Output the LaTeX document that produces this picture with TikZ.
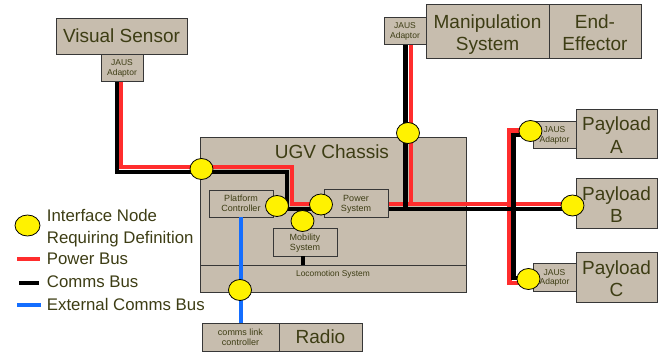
\documentclass[tikz,border=0pt]{standalone}
\usepackage{fontspec}
\setmainfont{Liberation Sans}
\usetikzlibrary{shapes.geometric}
\definecolor{boxfill}{RGB}{199,189,174}
\definecolor{boxline}{RGB}{55,55,55}
\definecolor{txt}{RGB}{61,61,20}
\definecolor{pwr}{RGB}{255,45,45}
\definecolor{ext}{RGB}{20,110,255}
\begin{document}
\begin{tikzpicture}[x=1pt,y=-1pt,
 box/.style={draw=boxline, fill=boxfill, line width=0.9pt, inner sep=0pt, text=txt, align=center, text depth=0pt},
 big/.style={font=\fontsize{19}{22.5}\selectfont},
 small/.style={font=\fontsize{8.5}{9.5}\selectfont},
 mid/.style={font=\fontsize{9}{10}\selectfont},
 twol/.style={yshift=-1.8pt},
 iface/.style={ellipse, draw=black, fill=yellow, line width=0.8pt, minimum width=23pt, minimum height=21pt, inner sep=0pt},
 power/.style={draw=pwr, line width=4.5pt},
 comms/.style={draw=black, line width=4.5pt},
 extc/.style={draw=ext, line width=4.5pt},
 lgtext/.style={anchor=base west, inner sep=0pt, text=txt, font=\fontsize{16.8}{20}\selectfont},
]
\useasboundingbox (0,0) rectangle (665,352);

% chassis
\node[box, minimum width=266pt, minimum height=155pt] (ugv) at (333,214.5) {};
\node[box, minimum width=266pt, minimum height=27pt] (loco) at (333,278.5) {};
\node[text=txt, inner sep=0pt, font=\fontsize{8.4}{9}\selectfont, text depth=0pt] (locot) at (333,273.8) {Locomotion System};
\node[text=txt, inner sep=0pt, big, text depth=0pt] (ugvt) at (332,152) {UGV Chassis};

% bus coordinates
\coordinate (vsR) at (121,81);
\coordinate (vsB) at (117,81);
\coordinate (rA) at (292,167);
\coordinate (rB) at (324,204);
\coordinate (rC) at (388,204);
\coordinate (rD) at (572,204);
\coordinate (bA) at (287,172);
\coordinate (bB) at (572,209);
\coordinate (mR) at (411,44);
\coordinate (mR2) at (411,204);
\coordinate (mB) at (405.5,44);
\coordinate (mB2) at (405.5,209);
\coordinate (pRa) at (530,130.5);
\coordinate (pRc) at (509.5,283);
\coordinate (pRe) at (528,283);
\coordinate (pBa) at (530,135);
\coordinate (pBc) at (513.5,278);
\coordinate (pBe) at (528,278);

% power bus
\draw[power] (vsR) |- (rA) |- (rB);
\draw[power] (rC) -- (rD);
\draw[power] (mR) -- (mR2);
\draw[power] (pRa) -| (pRc) -- (pRe);
% comms bus
\draw[comms] (vsB) |- (bA) |- (bB);
\draw[comms] (mB) -- (mB2);
\draw[comms] (pBa) -| (pBc) -- (pBe);

% boxes
\node[box, big, minimum width=131pt, minimum height=36pt] (vs) at (121.5,36) {Visual Sensor};
\node[box, small, minimum width=42pt, minimum height=27pt] (vsj) at (122,67.5) {JAUS\\Adaptor};
\node[box, small, minimum width=42pt, minimum height=27pt] (mj) at (405,30.5) {JAUS\\Adaptor};
\node[box, minimum width=123pt, minimum height=54pt] (man) at (487.5,31) {};
\node[big, text=txt, align=center, text depth=0pt, twol] (mant) at (man) {Manipulation\\System};
\node[box, minimum width=92pt, minimum height=54pt] (ee) at (595,31) {};
\node[big, text=txt, align=center, text depth=0pt, twol] (eet) at (ee) {End-\\Effector};

\node[box, mid, minimum width=64pt, minimum height=27pt] (pc) at (241,203.5) {Platform\\Controller};
\node[box, mid, minimum width=64pt, minimum height=28pt] (ps) at (356,203) {Power\\System};
\node[box, mid, minimum width=64pt, minimum height=28pt] (mob) at (305,242) {Mobility\\System};
\draw[comms, line width=4pt] (303,256 |- mob.south) -- (303,0 |- loco.north);

\node[box, small, minimum width=43pt, minimum height=27pt] (paj) at (554.5,134.5) {JAUS\\Adaptor};
\node[box, minimum width=81pt, minimum height=49pt] (pa) at (616.5,133.5) {};
\node[big, text=txt, align=center, text depth=0pt, twol] (pat) at (pa) {Payload\\A};
\node[box, minimum width=81pt, minimum height=50pt] (pb) at (616.5,203) {};
\node[big, text=txt, align=center, text depth=0pt, twol] (pbt) at (pb) {Payload\\B};
\node[box, small, minimum width=43pt, minimum height=28pt] (pcj) at (554.5,277) {JAUS\\Adaptor};
\node[box, minimum width=81pt, minimum height=50pt] (pcp) at (616.5,277) {};
\node[big, text=txt, align=center, text depth=0pt, twol] (pct) at (pcp) {Payload\\C};

\node[box, mid, minimum width=77pt, minimum height=28pt] (clc) at (240.5,337) {comms link\\controller};
\node[box, big, minimum width=83pt, minimum height=28pt] (radio) at (320.5,337) {Radio};

% external comms
\draw[extc] (pc.south) -- (pc.south |- clc.north);

% interface nodes
\node[iface] (e1) at (201.5,169) {};
\node[iface] (e2) at (277,206) {};
\node[iface] (e3) at (321,204.5) {};
\node[iface] (e4) at (302.5,221) {};
\node[iface] (e5) at (408,133) {};
\node[iface] (e6) at (240,290) {};
\node[iface] (eA) at (530.5,131) {};
\node[iface] (eB) at (572.5,205.5) {};
\node[iface] (eC) at (528.5,279) {};

% legend
\node[iface, minimum width=25pt] (lg) at (27.5,225.5) {};
\node[lgtext] (lg1) at (46.7,221.7) {Interface Node};
\node[lgtext] (lg2) at (46.7,243.3) {Requiring Definition};
\coordinate (lpa) at (17,259);
\coordinate (lpb) at (40,259);
\draw[power] (lpa) -- (lpb);
\node[lgtext] (lg3) at (46.7,265) {Power Bus};
\coordinate (lca) at (19,283);
\coordinate (lcb) at (39,283);
\draw[comms] (lca) -- (lcb);
\node[lgtext] (lg4) at (46.7,287.7) {Comms Bus};
\coordinate (lea) at (17,305);
\coordinate (leb) at (41,305);
\draw[extc] (lea) -- (leb);
\node[lgtext] (lg5) at (46.7,311) {External Comms Bus};
\end{tikzpicture}
\end{document}
